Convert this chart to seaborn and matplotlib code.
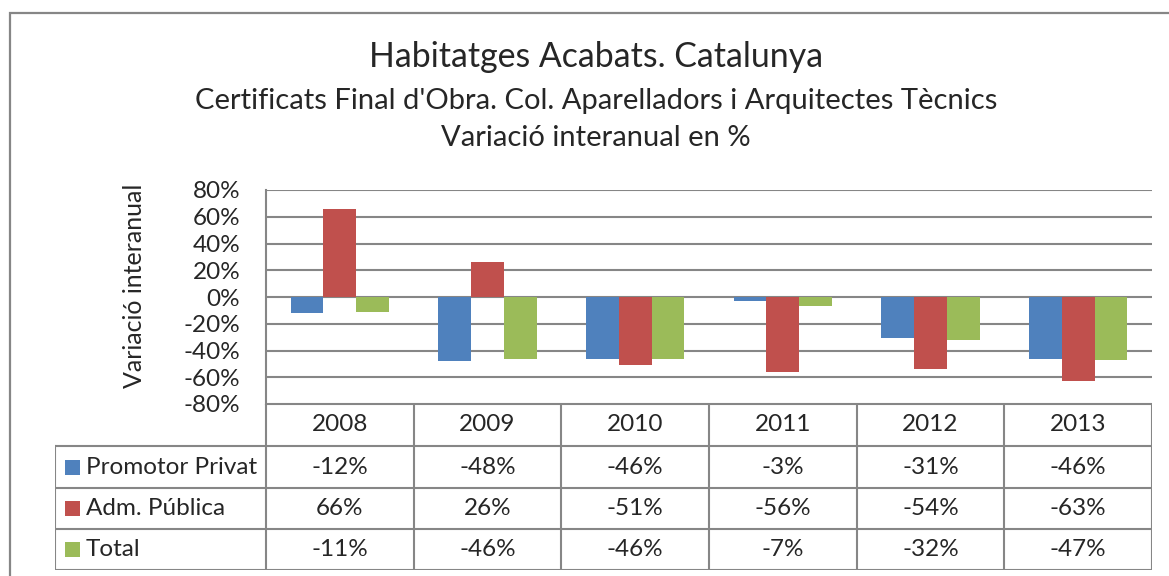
import numpy as np
import pandas as pd
import matplotlib
matplotlib.use("Agg")
import matplotlib.pyplot as plt
import seaborn as sns
from matplotlib.patches import Rectangle

# data
years = ["2008", "2009", "2010", "2011", "2012", "2013"]
series = ["Promotor Privat", "Adm. Pública", "Total"]
promotor_privat = [-12, -48, -46, -3, -31, -46]
adm_publica = [66, 26, -51, -56, -54, -63]
total = [-11, -46, -46, -7, -32, -47]
colors = ["#4F81BD", "#C0504D", "#9BBB59"]
yticks = [-80, -60, -40, -20, 0, 20, 40, 60, 80]

W, H = 1169, 576
GRID = "#868686"

sns.set_theme(style="white")
plt.rcParams["font.family"] = ["Lato", "DejaVu Sans"]

df = pd.DataFrame({
    "year": years * 3,
    "series": [s for s in series for _ in years],
    "value": promotor_privat + adm_publica + total,
})
df["frac"] = df["value"] / 100.0

fig = plt.figure(figsize=(W / 100, H / 100), dpi=100)
fig.patch.set_facecolor("white")


def fx(x):
    return x / W


def fy(y):
    return 1 - y / H


# outer chart border (runs off the right/bottom edge)
fig.patches.append(Rectangle((fx(10), fy(700)), fx(1300), fy(13) - fy(700),
                             transform=fig.transFigure, fill=False,
                             edgecolor=GRID, linewidth=1.6))

# titles
fig.text(fx(596), fy(57), "Habitatges Acabats. Catalunya",
         ha="center", va="center", fontsize=24.4)
fig.text(fx(596), fy(101), "Certificats Final d'Obra. Col. Aparelladors i Arquitectes Tècnics",
         ha="center", va="center", fontsize=21)
fig.text(fx(596), fy(138), "Variació interanual en %",
         ha="center", va="center", fontsize=21)

# bar area
L, R, T, B = 266, 1152, 190, 404
ax = fig.add_axes([fx(L), fy(B), fx(R - L), fy(T) - fy(B)])
sns.barplot(data=df, x="year", y="frac", hue="series", palette=colors,
            width=0.667, saturation=1, legend=False, ax=ax, edgecolor="none")
ax.set_xlim(-0.5, len(years) - 0.5)
ax.set_ylim(-0.8, 0.8)
ax.set_yticks([t / 100 for t in yticks])
ax.set_yticklabels([f"{t}%" for t in yticks], fontsize=17.5)
ax.tick_params(axis="y", length=0, pad=18.5)
ax.set_xticks([])
ax.set_xlabel("")
ax.set_ylabel("")
ax.set_axisbelow(True)
ax.yaxis.grid(True, color=GRID, linewidth=1.5)
for s in ["top", "right", "bottom"]:
    ax.spines[s].set_visible(False)
ax.spines["left"].set_color(GRID)
ax.spines["left"].set_linewidth(1.5)

fig.text(fx(135), fy(286), "Variació interanual", rotation=90,
         ha="center", va="center", fontsize=18)

# data table below the bars
TL, TB = 55, 570
tab = fig.add_axes([fx(TL), fy(TB), fx(R - TL), fy(B) - fy(TB)])
tab.set_xlim(TL, R)
tab.set_ylim(TB, B)
tab.axis("off")
col_edges = np.linspace(L, R, len(years) + 1)
row_edges = [404, 446, 488, 529, 570]
lk = dict(color=GRID, linewidth=1.5, solid_capstyle="projecting")

tab.plot([L, R], [row_edges[0], row_edges[0]], **lk)
for y in row_edges[1:]:
    tab.plot([TL, R], [y, y], **lk)
tab.plot([TL, TL], [row_edges[1], row_edges[-1]], **lk)
for x in col_edges:
    tab.plot([x, x], [row_edges[0], row_edges[-1]], **lk)

centers = (col_edges[:-1] + col_edges[1:]) / 2
for cx, yr in zip(centers, years):
    tab.text(cx, (row_edges[0] + row_edges[1]) / 2, yr, ha="center", va="center", fontsize=17.5)

for i, (name, vals, c) in enumerate(zip(series, [promotor_privat, adm_publica, total], colors)):
    cy = (row_edges[i + 1] + row_edges[i + 2]) / 2
    tab.add_patch(Rectangle((65, cy - 7.5), 15, 15, facecolor=c, edgecolor="none"))
    tab.text(86, cy, name, ha="left", va="center", fontsize=17.5)
    for cx, v in zip(centers, vals):
        tab.text(cx, cy, f"{v}%", ha="center", va="center", fontsize=17.5)

fig.savefig("out.png", dpi=100, facecolor="white")
